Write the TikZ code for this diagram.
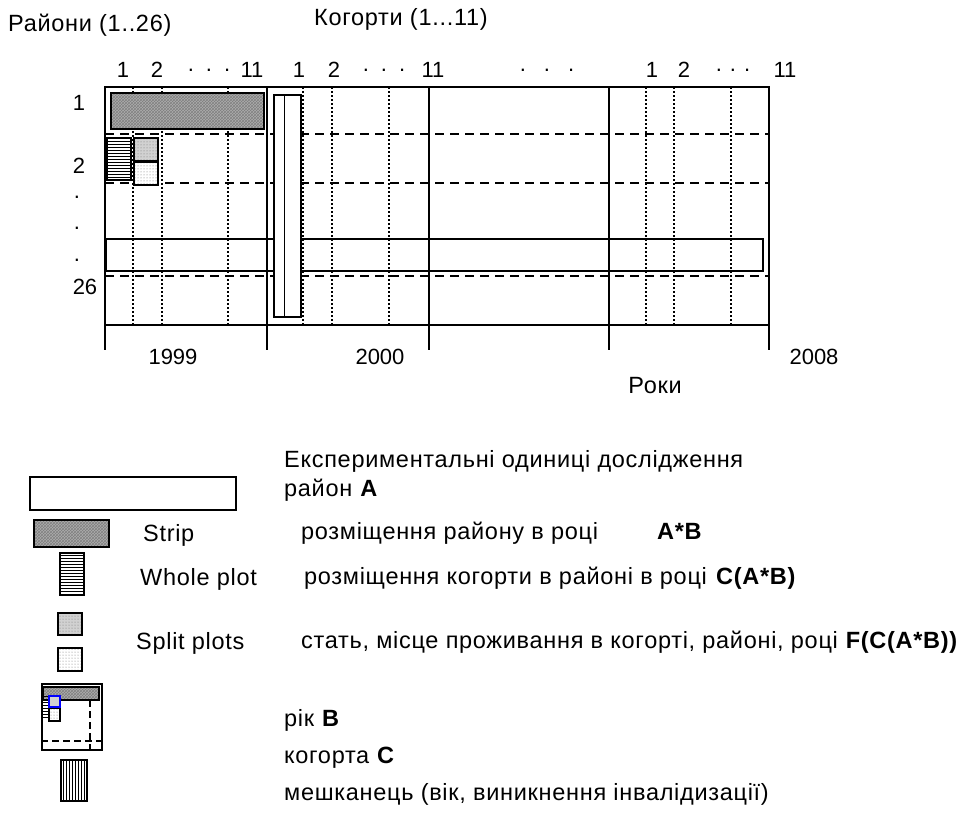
\documentclass[tikz,border=0pt]{standalone}
\usepackage{fontspec}
\setmainfont{Liberation Sans}
\newfontfamily\lsfont[LetterSpace=3]{Liberation Sans}
\usetikzlibrary{patterns}
\begin{document}
\begin{tikzpicture}[x=1pt,y=-1pt,
  lbl/.style={inner sep=0pt, font=\fontsize{22}{26}\selectfont},
  ltxt/.style={inner sep=0pt, anchor=base west, font=\fontsize{23.5}{28}\selectfont\lsfont},
  frame/.style={line width=1.3pt},
  dashl/.style={line width=1.2pt, dash pattern=on 9pt off 6pt},
  dotl/.style={line width=1.2pt, dash pattern=on 2pt off 2pt},
  box/.style={line width=1.8pt},
  stripfill/.style={fill=black!32},
  stripdots/.style={pattern=crosshatch, pattern color=black!50},
  hfill/.style={pattern=horizontal lines, pattern color=black},
  vfill/.style={pattern=vertical lines, pattern color=black},
  sfillA/.style={fill=black!18},
  sfillB/.style={pattern=dots, pattern color=black!55},
  minidash/.style={line width=1.3pt, dash pattern=on 7pt off 4pt},
]
\fill[white] (0,0) rectangle (971,823);
\useasboundingbox (0,0) rectangle (971,823);

% ---------- grid ----------
\foreach \y in {134,183,276} \draw[dashl] (105,\y) -- (769,\y);
\foreach \x in {133,162,228,303,332,389,646,674,731} \draw[dotl] (\x,87) -- (\x,325);
\draw[frame] (105,87) rectangle (769,325);
\foreach \x in {105,267,429,609,769} \draw[frame] (\x,87) -- (\x,350);

% long district rectangle
\draw[line width=1.3pt] (106,239) rectangle (763,271);

% strip (hatched)
\fill[stripfill] (111,93) rectangle (264,129);
\fill[stripdots] (111,93) rectangle (264,129);
\draw[box] (111,93) rectangle (264,129);
% whole plot
\fill[white] (107,138) rectangle (131,180);
\fill[hfill] (107,138) rectangle (131,180);
\draw[box] (107,138) rectangle (131,180);
% split plots
\fill[sfillA] (134,138) rectangle (158,161);
\fill[sfillB] (134,138) rectangle (158,161);
\draw[box] (134,138) rectangle (158,161);
\fill[white] (134,162) rectangle (158,185);
\fill[sfillB] (134,162) rectangle (158,185);
\draw[box] (134,162) rectangle (158,185);
% tall cohort bar
\filldraw[fill=white, line width=1.3pt] (274,95) rectangle (301,317);
\draw[line width=0.8pt] (284,95) -- (284,317);

% ---------- labels on top ----------
\node[ltxt] (raiony) at (8,31) {Райони (1..26)};
\node[ltxt] (kohorty) at (314,25) {Когорти (1...11)};

\node[lbl] (t1a) at (123,70) {1};
\node[lbl] (t1b) at (157,70) {2};
\node[lbl] (t1c) at (209,70) {.\hspace{12pt}.\hspace{12pt}.};
\node[lbl] (t1d) at (252,70) {11};
\node[lbl] (t2a) at (299,70) {1};
\node[lbl] (t2b) at (334,70) {2};
\node[lbl] (t2c) at (384,70) {.\hspace{12pt}.\hspace{12pt}.};
\node[lbl] (t2d) at (433,70) {11};
\node[lbl] (t3c) at (547,70) {.\hspace{18pt}.\hspace{18pt}.};
\node[lbl] (t4a) at (652,70) {1};
\node[lbl] (t4b) at (684,70) {2};
\node[lbl] (t4c) at (733,70) {.\hspace{8pt}.\hspace{8pt}.};
\node[lbl] (t4d) at (785,70) {11};

% row labels
\node[lbl] (r1) at (79,103) {1};
\node[lbl] (r2) at (79,166) {2};
\node[lbl] (rd1) at (77,197) {.};
\node[lbl] (rd2) at (77,228) {.};
\node[lbl] (rd3) at (77,260) {.};
\node[lbl] (r26) at (85,287) {26};

% years
\node[lbl] (y1999) at (173,357) {1999};
\node[lbl] (y2000) at (380,357) {2000};
\node[lbl] (y2008) at (814,357) {2008};
\node[ltxt, anchor=center] (roky) at (655,386) {Роки};

% ---------- legend icons ----------
\draw[box] (30,477) rectangle (236,510);
\fill[stripfill] (34,520) rectangle (109,547);
\fill[stripdots] (34,520) rectangle (109,547);
\draw[box] (34,520) rectangle (109,547);
\fill[hfill] (60,553) rectangle (84,595);
\draw[box] (60,553) rectangle (84,595);
\fill[sfillA] (58,613) rectangle (82,635);
\fill[sfillB] (58,613) rectangle (82,635);
\draw[box] (58,613) rectangle (82,635);
\fill[sfillB] (58,648) rectangle (82,671);
\draw[box] (58,648) rectangle (82,671);

% mini diagram
\draw[box] (42,684) rectangle (102,750);
\fill[stripfill] (43,687) rectangle (99,700);
\fill[stripdots] (43,687) rectangle (99,700);
\draw[box] (43,687) rectangle (99,700);
\fill[hfill] (42,696) rectangle (49,719);
\fill[sfillB] (49,708) rectangle (60,721);
\draw[box] (49,708) rectangle (60,721);
\fill[sfillA] (49,696) rectangle (60,707);
\draw[line width=1.8pt, blue] (49,696) rectangle (60,707);
\draw[minidash] (90,700) -- (90,752);
\draw[minidash] (41,741) -- (103,741);

\fill[vfill] (61,760) rectangle (87,801);
\draw[box] (61,760) rectangle (87,801);

% ---------- legend texts (baselines) ----------
\node[ltxt] (lstrip) at (143,541) {Strip};
\node[ltxt] (lwhole) at (140,585) {Whole plot};
\node[ltxt] (lsplit) at (136,649) {Split plots};

\node[ltxt] (eu) at (284,467) {Експериментальні одиниці дослідження};
\node[ltxt] (eA) at (284,496) {район \textbf{A}};
\node[ltxt] (eAB) at (301,539) {розміщення району в році};
\node[ltxt] (eABb) at (657,539) {\textbf{A*B}};
\node[ltxt] (eCAB) at (304,584) {розміщення когорти в районі в році};
\node[ltxt] (eCABb) at (716,584) {\textbf{C(A*B)}};
\node[ltxt] (eF) at (301,648) {стать, місце проживання в когорті, районі, році \textbf{F(C(A*B))}};
\node[ltxt] (eB) at (284,726) {рік \textbf{B}};
\node[ltxt] (eC) at (284,763) {когорта \textbf{C}};
\node[ltxt] (eM) at (284,800) {мешканець (вік, виникнення інвалідизації)};
\end{tikzpicture}
\end{document}
